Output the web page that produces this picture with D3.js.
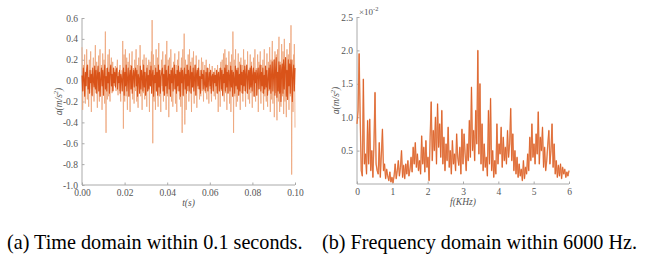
<!DOCTYPE html>
<html><head><meta charset="utf-8">
<script src="https://cdn.jsdelivr.net/npm/d3@7"></script>
<style>
body{margin:0;background:#fff;}
svg{display:block;}
text{font-family:'Liberation Serif',Tinos,'Times New Roman',Times,'Nimbus Roman','DejaVu Serif',serif;}
.tk text{font-size:9.5px;fill:#555;}
.tk line,.tk path{stroke:#aaa;}
</style></head>
<body>
<svg id="c" width="647" height="267"></svg>
<script>
// ---- Data ----
const timeTicks = [0.00,0.02,0.04,0.06,0.08,0.10];
const accTicks = [0.6,0.4,0.2,0.0,-0.2,-0.4,-0.6,-0.8,-1.0];
const freqTicks = [0,1,2,3,4,5,6];
const ampTicks = [0.5,1.0,1.5,2.0,2.5];
const timeSpan = 0.1;   // seconds
const freqSpan = 6;     // KHz
// acceleration samples (m/s^2): even samples
const accelA = [
0.32,-0.28,0.15,-0.1,0.25,-0.22,0.05,0.3,-0.18,0.12,-0.25,0.2,-0.05,0.28,-0.3,0.1,-0.15,0.22,-0.2,0.08,
0.34,-0.12,0.18,-0.26,0.05,0.24,-0.2,0.3,-0.08,0.15,-0.28,0.26,-0.1,0.2,-0.22,0.47,-0.5,0.12,-0.18,0.25,
-0.15,0.3,-0.2,0.08,0.22,-0.12,0.18,-0.08,0.1,-0.05,0.14,-0.1,0.06,0.2,-0.14,0.08,-0.1,0.15,-0.2,0.05,
0.1,0.38,-0.46,0.25,-0.2,0.3,-0.15,0.22,-0.28,0.18,-0.1,0.26,-0.3,0.15,-0.05,0.28,-0.18,0.12,-0.22,0.2,
-0.1,0.3,-0.2,0.15,-0.26,0.22,-0.08,0.34,-0.15,0.1,-0.28,0.2,-0.12,0.25,-0.18,0.05,0.22,-0.25,0.15,-0.1,
0.2,-0.3,0.18,-0.05,0.28,0.58,-0.6,0.25,-0.2,0.15,-0.28,0.3,-0.1,0.22,-0.25,0.36,-0.15,0.1,-0.3,0.2,
-0.05,0.28,-0.2,0.15,-0.12,0.25,-0.28,0.38,-0.15,0.2,-0.35,0.22,-0.1,0.3,-0.2,0.12,-0.25,0.18,-0.08,0.26,
-0.22,0.15,-0.3,0.2,-0.1,0.28,-0.18,0.1,-0.25,0.22,-0.5,0.3,-0.15,0.45,-0.42,0.2,-0.28,0.15,-0.1,0.25,
-0.2,0.3,-0.12,0.18,-0.3,0.22,-0.05,0.28,-0.22,0.15,-0.1,0.24,-0.26,0.12,-0.08,0.2,-0.18,0.1,-0.15,0.22,
-0.1,0.18,-0.2,0.08,0.15,-0.12,0.2,-0.18,0.05,0.12,-0.22,0.16,-0.08,0.1,-0.2,0.14,-0.05,0.08,-0.15,0.12,
-0.18,0.1,-0.08,0.15,-0.3,0.05,0.12,-0.25,0.18,-0.1,0.2,-0.15,0.26,-0.2,0.3,-0.12,0.22,-0.28,0.15,-0.1,
0.28,-0.22,0.18,-0.3,0.25,-0.1,0.47,-0.5,0.2,-0.15,0.3,-0.25,0.12,-0.2,0.26,-0.08,0.18,-0.28,0.22,-0.12,
0.15,-0.2,0.3,-0.1,0.2,-0.25,0.12,-0.05,0.28,-0.18,0.1,-0.22,0.25,-0.12,0.18,-0.26,0.08,0.22,-0.15,0.3,
-0.2,0.12,-0.1,0.25,-0.3,0.18,-0.08,0.28,-0.22,0.15,-0.12,0.2,-0.28,0.3,-0.15,0.1,-0.2,0.26,-0.25,0.18,
-0.1,0.32,-0.3,0.2,-0.18,0.38,-0.22,0.15,-0.35,0.28,-0.12,0.25,-0.38,0.3,-0.2,0.42,-0.3,0.18,-0.25,0.35,
-0.15,0.28,-0.32,0.4,-0.2,0.22,-0.35,0.3,-0.1,0.25,-0.28,0.36,-0.15,0.53,-0.9,0.2,-0.3,0.25,0.35,-0.45
];
// acceleration samples (m/s^2): odd samples (between the even ones)
const accelB = [
0.05,-0.1,0.12,0.02,-0.15,0.08,-0.05,0.1,0.15,-0.08,0.03,-0.12,0.1,-0.02,0.06,-0.14,0.12,0.0,-0.06,0.14,
-0.08,0.1,-0.12,0.05,0.14,-0.1,0.08,-0.15,0.02,0.12,-0.05,0.1,-0.14,0.06,0.15,-0.08,0.04,-0.1,0.12,-0.02,
0.08,-0.12,0.1,0.15,-0.05,0.06,-0.1,0.12,-0.02,0.08,-0.06,0.1,0.12,-0.08,0.04,-0.02,0.1,-0.12,0.06,0.02,
-0.1,0.06,0.12,-0.14,0.08,-0.05,0.15,-0.1,0.02,0.12,-0.15,0.05,0.1,-0.08,0.14,-0.12,0.04,0.1,-0.06,0.08,
0.12,-0.05,0.1,-0.15,0.06,0.02,-0.12,0.14,-0.08,0.1,0.04,-0.1,0.15,-0.06,0.08,-0.14,0.02,0.12,-0.1,0.05,
-0.08,0.1,-0.05,0.14,-0.12,0.06,0.1,-0.15,0.05,-0.02,0.12,-0.1,0.08,-0.14,0.15,-0.06,0.1,-0.12,0.04,0.08,
0.12,-0.1,0.06,-0.14,0.15,-0.05,0.1,-0.12,0.02,0.14,-0.08,0.06,-0.15,0.1,-0.02,0.12,-0.1,0.05,0.15,-0.08,
0.06,-0.12,0.1,-0.05,0.14,-0.1,0.08,-0.15,0.12,-0.02,0.1,-0.14,0.05,0.12,-0.08,0.06,-0.12,0.15,-0.05,0.1,
-0.1,0.05,0.14,-0.12,0.08,-0.06,0.12,-0.1,0.02,0.15,-0.14,0.06,0.1,-0.05,0.12,-0.08,0.04,-0.12,0.1,0.02,
0.06,-0.08,0.1,-0.04,-0.1,0.08,-0.06,0.12,-0.1,0.02,0.08,-0.05,0.1,-0.12,0.04,0.06,-0.1,0.08,-0.02,0.05,
-0.05,0.1,-0.12,0.06,0.08,-0.1,0.04,0.12,-0.08,0.1,-0.14,0.06,-0.02,0.12,-0.1,0.15,-0.06,0.08,-0.12,0.1,
0.05,-0.1,0.14,-0.06,0.1,-0.15,0.08,0.02,-0.12,0.14,-0.05,0.1,-0.08,0.12,-0.14,0.06,-0.1,0.15,-0.04,0.08,
-0.12,0.1,-0.05,0.14,-0.1,0.06,0.15,-0.12,0.04,0.1,-0.08,0.12,-0.06,0.14,-0.1,0.05,0.12,-0.15,0.08,-0.02,
0.1,-0.14,0.06,0.12,-0.08,0.04,0.15,-0.1,0.08,-0.05,0.12,-0.12,0.05,-0.08,0.14,-0.06,0.1,-0.14,0.02,0.12,
-0.08,0.15,-0.12,0.06,0.18,-0.1,0.05,0.2,-0.14,0.1,0.22,-0.16,0.08,-0.1,0.18,-0.12,0.15,-0.2,0.1,0.16,
-0.12,0.2,-0.08,0.14,0.22,-0.15,0.1,-0.18,0.2,-0.05,0.16,-0.12,0.2,0.1,-0.2,0.06,0.15,-0.1,0.12
];
// spectrum amplitude (x10^-2 m/s^2), evenly spaced over 0..6 KHz
const amp = [
0.9,1.1,1.95,1.0,0.2,0.12,1.57,0.3,0.45,0.15,0.95,0.3,0.97,0.2,0.5,0.1,0.6,1.37,0.3,0.2,
0.15,0.62,0.1,0.45,0.82,0.2,0.3,0.08,0.22,0.12,0.05,0.18,0.03,0.1,0.02,0.12,0.3,0.08,0.2,0.35,
0.12,0.25,0.5,0.1,0.28,0.08,0.3,0.15,0.35,0.12,0.22,0.4,0.18,0.55,0.3,0.62,0.25,0.45,0.2,0.35,
0.15,0.72,0.3,0.55,0.18,0.65,0.25,0.4,0.05,0.7,1.23,0.35,0.8,0.5,1.0,0.3,1.2,0.55,0.9,0.4,
1.1,0.3,0.7,0.2,0.6,0.35,0.85,0.25,0.5,0.15,0.65,0.3,0.45,0.2,0.75,0.4,0.28,0.55,0.15,0.82,
0.3,0.75,0.45,0.2,0.6,0.35,0.95,0.4,1.45,0.5,0.8,0.35,1.1,0.6,2.0,0.45,1.5,0.3,0.9,0.2,
0.6,0.25,0.4,0.12,1.1,0.3,1.28,0.2,0.5,0.1,0.35,0.15,0.9,0.3,0.6,0.45,0.85,0.25,0.7,0.35,
0.55,0.3,0.8,0.4,0.6,1.13,0.35,0.75,0.2,0.5,0.15,0.4,0.1,0.3,0.12,0.22,0.05,0.35,0.08,0.25,
0.15,0.45,0.2,0.7,0.35,0.9,0.4,0.6,0.3,0.75,0.45,1.08,0.3,0.7,0.5,0.85,0.25,0.55,0.2,0.35,
0.6,0.8,0.3,0.5,0.9,0.25,0.6,0.15,0.35,0.1,0.28,0.12,0.3,0.08,0.25,0.15,0.22,0.1,0.18,0.12,
0.2
];
const captions = ["(a) Time domain within 0.1 seconds.", "(b) Frequency domain within 6000 Hz."];

// interleave the two sample sets into one record
const accel = [];
accelA.forEach((v,i)=>{ accel.push(v); if (i < accelB.length) accel.push(accelB[i]); });

// ---- Drawing ----
const svg = d3.select("#c");
const orange = "#d95319";
const light = "#eda47a";
const hy = f => v => f(v).replace("\u2212","-");

function panel(o){
  const g = svg.append("g");
  const x = d3.scaleLinear().domain(o.xd).range(o.xr);
  const y = d3.scaleLinear().domain(o.yd).range(o.yr);
  const xa = g.append("g").attr("class","tk").attr("transform",`translate(0,${o.yr[0]})`)
    .call(d3.axisBottom(x).tickValues(o.xt).tickFormat(o.xf).tickSize(-2.5).tickSizeOuter(0).tickPadding(4));
  const ya = g.append("g").attr("class","tk").attr("transform",`translate(${o.xr[0]},0)`)
    .call(d3.axisLeft(y).tickValues(o.yt).tickFormat(o.yf).tickSize(-2.5).tickSizeOuter(0).tickPadding(4));
  xa.attr("font-family",null); ya.attr("font-family",null);
  xa.select(".domain").attr("d",`M${o.xr[0]},0H${o.xr[1]}`);
  ya.select(".domain").attr("d",`M0,${o.yr[0]}V${o.yr[1]}`);
  o.layers.forEach(L=>{
    const n = L.vals.length;
    const line = d3.line().x((d,i)=>x(o.xd[0] + (o.xd[1]-o.xd[0])*i/(n-1))).y(d=>y(d));
    g.append("path").datum(L.vals).attr("d",line).attr("fill","none")
      .attr("stroke",L.c).attr("stroke-width",L.w).attr("stroke-linejoin","round");
  });
  g.append("text").attr("x",(o.xr[0]+o.xr[1])/2).attr("y",o.yr[0]+21)
    .attr("text-anchor","middle").attr("font-style","italic")
    .attr("font-size",9.5).attr("fill","#555").text(o.xl);
  const yl = g.append("text").attr("transform",`translate(${o.ylx},${(o.yr[0]+o.yr[1])/2}) rotate(-90)`)
    .attr("text-anchor","middle").attr("font-style","italic")
    .attr("font-size",9.5).attr("fill","#555");
  yl.append("tspan").text("a(m/s");
  yl.append("tspan").attr("font-size",6.5).attr("dy",-4).text("2");
  yl.append("tspan").attr("dy",4).text(")");
  return {g,x,y};
}

panel({xd:[0,timeSpan], xr:[82,295], yd:[-1.0,0.6], yr:[185,18],
  xt:timeTicks, yt:accTicks, xf:d3.format(".2f"), yf:hy(d3.format(".1f")),
  layers:[{vals:accel,c:light,w:0.8},{vals:accelB,c:orange,w:1.1}],
  xl:"t(s)", ylx:62});

const p2 = panel({xd:[0,freqSpan], xr:[357,569], yd:[0,2.5], yr:[184,17],
  xt:freqTicks, yt:ampTicks, xf:d3.format("d"), yf:d3.format(".1f"),
  layers:[{vals:amp,c:light,w:1.4},{vals:amp,c:orange,w:0.6}],
  xl:"f(KHz)", ylx:339});
const ex = p2.g.append("text").attr("x",359).attr("y",15)
  .attr("font-size",9).attr("fill","#555");
ex.append("tspan").text("×10");
ex.append("tspan").attr("font-size",6.5).attr("dy",-4).text("-2");

svg.selectAll(".cap").data(captions).enter().append("text")
  .attr("x",(d,i)=>i===0?7:322).attr("y",249)
  .attr("font-size",20.2).attr("fill","#000").text(d=>d);
</script>
</body></html>
